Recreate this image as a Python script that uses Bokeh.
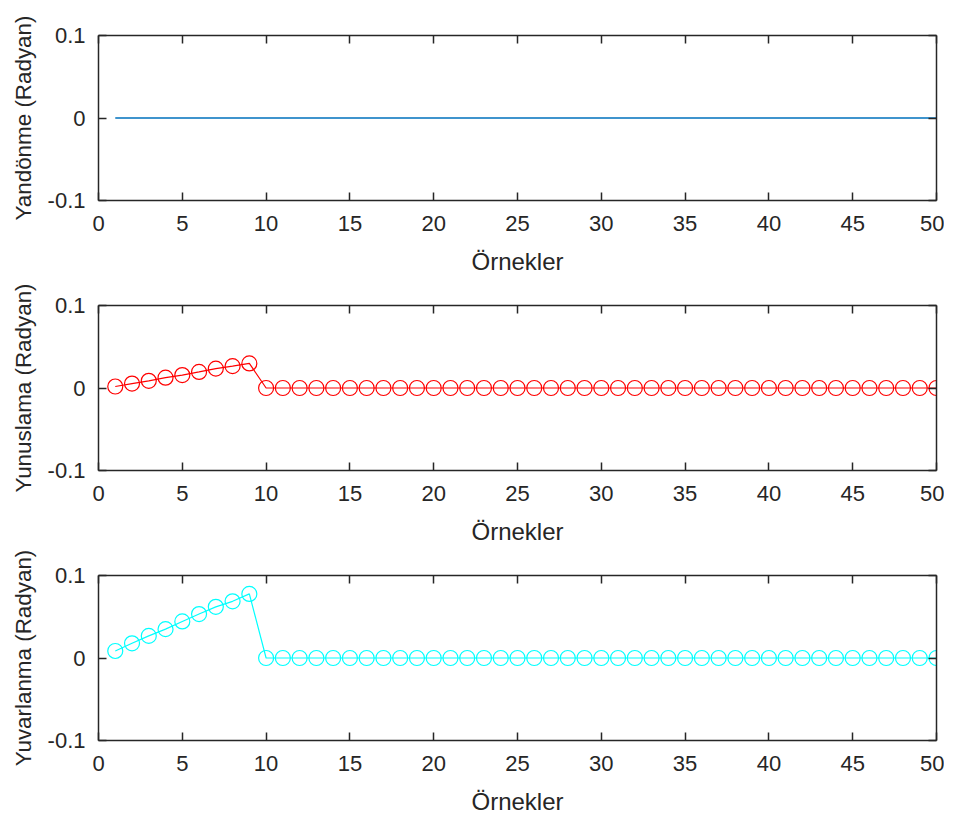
from bokeh.plotting import figure
from bokeh.layouts import column
from bokeh.models import LinearAxis, FixedTicker, Range1d, ColumnDataSource
from bokeh.embed import file_html
from bokeh.resources import INLINE

samples = [1, 2, 3, 4, 5, 6, 7, 8, 9, 10, 11, 12, 13, 14, 15, 16, 17, 18, 19, 20,
           21, 22, 23, 24, 25, 26, 27, 28, 29, 30, 31, 32, 33, 34, 35, 36, 37, 38, 39, 40,
           41, 42, 43, 44, 45, 46, 47, 48, 49, 50]
yaw = [0, 0, 0, 0, 0, 0, 0, 0, 0, 0, 0, 0, 0, 0, 0, 0, 0, 0, 0, 0,
       0, 0, 0, 0, 0, 0, 0, 0, 0, 0, 0, 0, 0, 0, 0, 0, 0, 0, 0, 0,
       0, 0, 0, 0, 0, 0, 0, 0, 0, 0]
pitch = [0.0018, 0.0054, 0.0087, 0.0125, 0.0157, 0.0195, 0.0235, 0.0265, 0.0298, 0,
         0, 0, 0, 0, 0, 0, 0, 0, 0, 0, 0, 0, 0, 0, 0, 0, 0, 0, 0, 0,
         0, 0, 0, 0, 0, 0, 0, 0, 0, 0, 0, 0, 0, 0, 0, 0, 0, 0, 0, 0]
roll = [0.0085, 0.0178, 0.0268, 0.0350, 0.0443, 0.0533, 0.0620, 0.0687, 0.0777, 0,
        0, 0, 0, 0, 0, 0, 0, 0, 0, 0, 0, 0, 0, 0, 0, 0, 0, 0, 0, 0,
        0, 0, 0, 0, 0, 0, 0, 0, 0, 0, 0, 0, 0, 0, 0, 0, 0, 0, 0, 0]

x_ticks = [0, 5, 10, 15, 20, 25, 30, 35, 40, 45, 50]
y_ticks = [-0.1, 0, 0.1]
y_tick_labels = ["-0.1", "0", "0.1"]
x_label = "Örnekler"
y_labels = ["Yandönme (Radyan)", "Yunuslama (Radyan)", "Yuvarlanma (Radyan)"]

FONT = "Liberation Sans"
TXT = "#262626"
AX = "#262626"


def style_axis(ax, labels=True, label_size="24px"):
    ax.axis_line_color = AX
    ax.axis_line_width = 1.5
    ax.major_tick_line_color = AX
    ax.major_tick_line_width = 1.5
    ax.major_tick_in = 8
    ax.major_tick_out = 0
    ax.minor_tick_line_color = None
    ax.major_label_text_font = FONT
    ax.major_label_text_color = TXT
    ax.axis_label_text_font = FONT
    ax.axis_label_text_color = TXT
    ax.axis_label_text_font_style = "normal"
    if labels:
        ax.major_label_text_font_size = "22px"
        ax.axis_label_text_font_size = label_size
    else:
        ax.major_label_text_font_size = "0px"
        ax.major_label_text_color = None
        ax.major_label_standoff = 0


def make(ylabel, top, bottom):
    p = figure(frame_width=838, frame_height=165, output_backend="svg",
               toolbar_location=None, x_range=Range1d(0, 50), y_range=Range1d(-0.1, 0.1),
               min_border_left=98, min_border_right=8, min_border_top=top,
               min_border_bottom=bottom, x_axis_type=None, y_axis_type=None)
    p.outline_line_color = None
    p.grid.visible = False
    p.background_fill_color = "white"
    p.border_fill_color = "white"

    xt = FixedTicker(ticks=x_ticks)
    yt = FixedTicker(ticks=y_ticks)
    overrides = {t: l for t, l in zip(y_ticks, y_tick_labels)}

    xb = LinearAxis(ticker=xt, axis_label=x_label)
    style_axis(xb)
    xb.major_label_standoff = 15
    xb.axis_label_standoff = 14
    p.add_layout(xb, "below")

    yl = LinearAxis(ticker=yt, axis_label=ylabel, major_label_overrides=overrides)
    style_axis(yl, label_size="22.4px")
    yl.major_label_standoff = 13
    yl.axis_label_standoff = 9
    p.add_layout(yl, "left")

    xa = LinearAxis(ticker=xt)
    style_axis(xa, labels=False)
    p.add_layout(xa, "above")

    yr = LinearAxis(ticker=yt)
    style_axis(yr, labels=False)
    p.add_layout(yr, "right")
    return p


p1 = make(y_labels[0], 35, 80)
p1.line(samples, yaw, line_color="#0072BD", line_width=1.5)

p2 = make(y_labels[1], 25, 78)
src2 = ColumnDataSource(dict(x=samples, y=pitch))
p2.line("x", "y", source=src2, line_color="#FF0000", line_width=1.2)
p2.scatter("x", "y", source=src2, marker="circle", size=15, fill_color=None,
           line_color="#FF0000", line_width=1.2)

p3 = make(y_labels[2], 27, 80)
src3 = ColumnDataSource(dict(x=samples, y=roll))
p3.line("x", "y", source=src3, line_color="#00FFFF", line_width=1.2)
p3.scatter("x", "y", source=src3, marker="circle", size=15, fill_color=None,
           line_color="#00FFFF", line_width=1.2)

layout = column(p1, p2, p3, spacing=0)
open("out.html", "w").write(file_html(layout, INLINE))
